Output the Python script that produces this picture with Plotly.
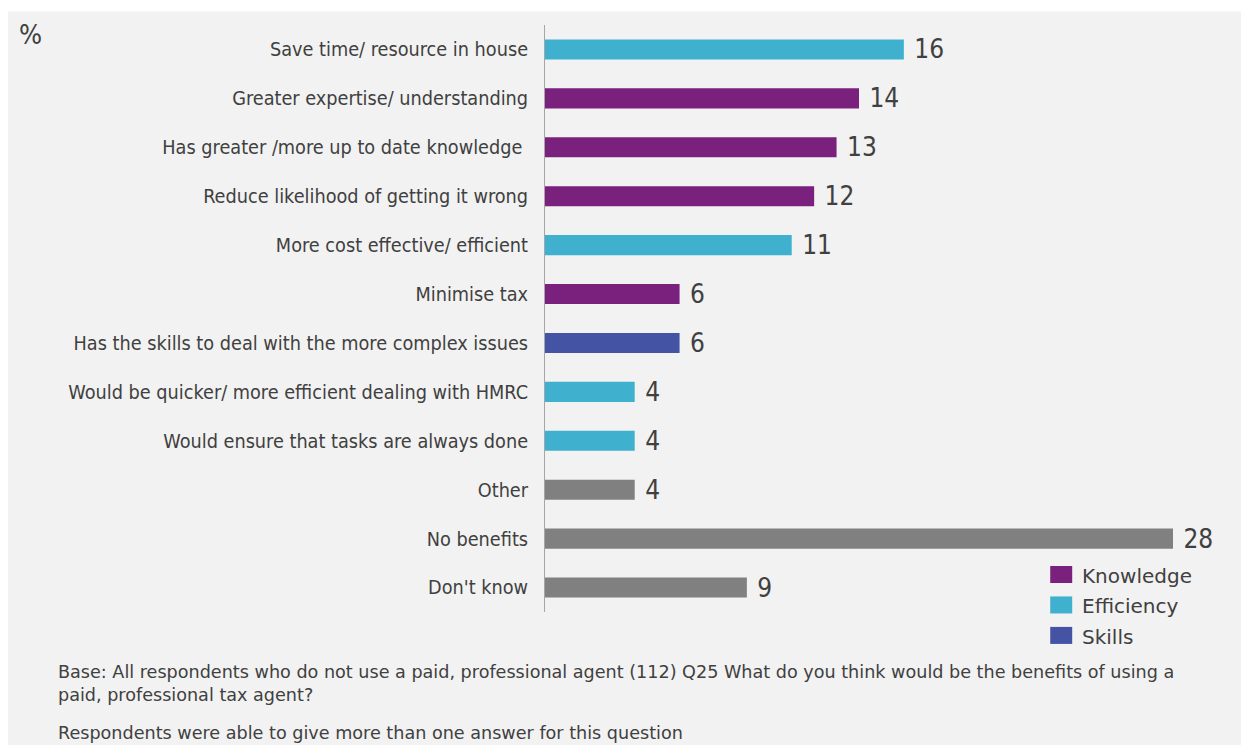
import plotly.graph_objects as go

# Survey responses, top to bottom
categories = [
    "Save time/ resource in house",
    "Greater expertise/ understanding",
    "Has greater /more up to date knowledge ",
    "Reduce likelihood of getting it wrong",
    "More cost effective/ efficient",
    "Minimise tax",
    "Has the skills to deal with the more complex issues",
    "Would be quicker/ more efficient dealing with HMRC",
    "Would ensure that tasks are always done",
    "Other",
    "No benefits",
    "Don't know",
]
values = [16, 14, 13, 12, 11, 6, 6, 4, 4, 4, 28, 9]
groups = [
    "Efficiency", "Knowledge", "Knowledge", "Knowledge", "Efficiency",
    "Knowledge", "Skills", "Efficiency", "Efficiency", "None", "None", "None",
]
legend_groups = ["Knowledge", "Efficiency", "Skills"]

group_colors = {
    "Knowledge": "#7a217e",
    "Efficiency": "#3fb1cf",
    "Skills": "#4553a5",
    "None": "#808080",
}

base_note = (
    "Base: All respondents who do not use a paid, professional agent (112) Q25 "
    "What do you think would be the benefits of using a<br>"
    "paid, professional tax agent?"
)
multi_note = "Respondents were able to give more than one answer for this question"

TEXT = "#404040"
FONT = "DejaVu Sans"
FONT_NARROW = "DejaVu Sans Condensed, DejaVu Sans"
PANEL = "#f2f2f2"

fig = go.Figure()
for g in ["Knowledge", "Efficiency", "Skills", "None"]:
    ys = [c for c, gg in zip(categories, groups) if gg == g]
    xs = [v for v, gg in zip(values, groups) if gg == g]
    fig.add_trace(go.Bar(
        x=xs, y=ys, orientation="h", name=g,
        marker=dict(color=group_colors[g], line=dict(width=0)),
        width=0.41,
        texttemplate=" %{x}", textposition="outside",
        constraintext="none",
        textfont=dict(size=26, color=TEXT, family=FONT_NARROW),
        cliponaxis=False,
        showlegend=False,
    ))

# Legend: coloured squares with labels, bottom right of the plot
legend_shapes = []
legend_notes = []
for i, g in enumerate(legend_groups):
    top = 0.0784 - i * 0.0519
    legend_shapes.append(dict(
        type="rect", xref="paper", yref="paper",
        x0=0.8045, x1=0.8395, y0=top - 0.029, y1=top,
        fillcolor=group_colors[g], line=dict(width=0),
    ))
    legend_notes.append(dict(
        text=g, xref="paper", yref="paper", x=0.852, y=top - 0.017,
        xanchor="left", yanchor="middle", showarrow=False,
        font=dict(size=20, color=TEXT, family=FONT),
    ))

fig.update_layout(
    width=1241, height=745,
    margin=dict(l=545, r=68, t=25, b=133),
    paper_bgcolor="white",
    plot_bgcolor=PANEL,
    barmode="overlay",
    showlegend=False,
    font=dict(family=FONT, color=TEXT, size=16),
    xaxis=dict(range=[0, 28], visible=False, fixedrange=True),
    yaxis=dict(
        categoryorder="array", categoryarray=categories,
        autorange="reversed",
        showline=True, linecolor="#a6a6a6", linewidth=1,
        showgrid=False, zeroline=False,
        ticks="", ticklabelstandoff=12,
        tickfont=dict(size=19.7, color=TEXT, family=FONT_NARROW),
    ),
    shapes=[dict(
        type="rect", xref="paper", yref="paper",
        x0=-0.855, x1=1.3, y0=-0.4, y1=1.023,
        fillcolor=PANEL, line=dict(width=0), layer="below",
    )] + legend_shapes,
    annotations=[
        dict(text="%", xref="paper", yref="paper", x=-0.841, y=1.014,
             xanchor="left", yanchor="top", showarrow=False,
             font=dict(size=27, color=TEXT, family=FONT_NARROW)),
        dict(text=base_note, xref="paper", yref="paper", x=-0.778, y=-0.081,
             xanchor="left", yanchor="top", align="left", showarrow=False,
             font=dict(size=17.6, color=TEXT, family=FONT)),
        dict(text=multi_note, xref="paper", yref="paper", x=-0.778, y=-0.206,
             xanchor="left", yanchor="middle", align="left", showarrow=False,
             font=dict(size=17.6, color=TEXT, family=FONT)),
    ] + legend_notes,
)

fig.write_html("out.html")
